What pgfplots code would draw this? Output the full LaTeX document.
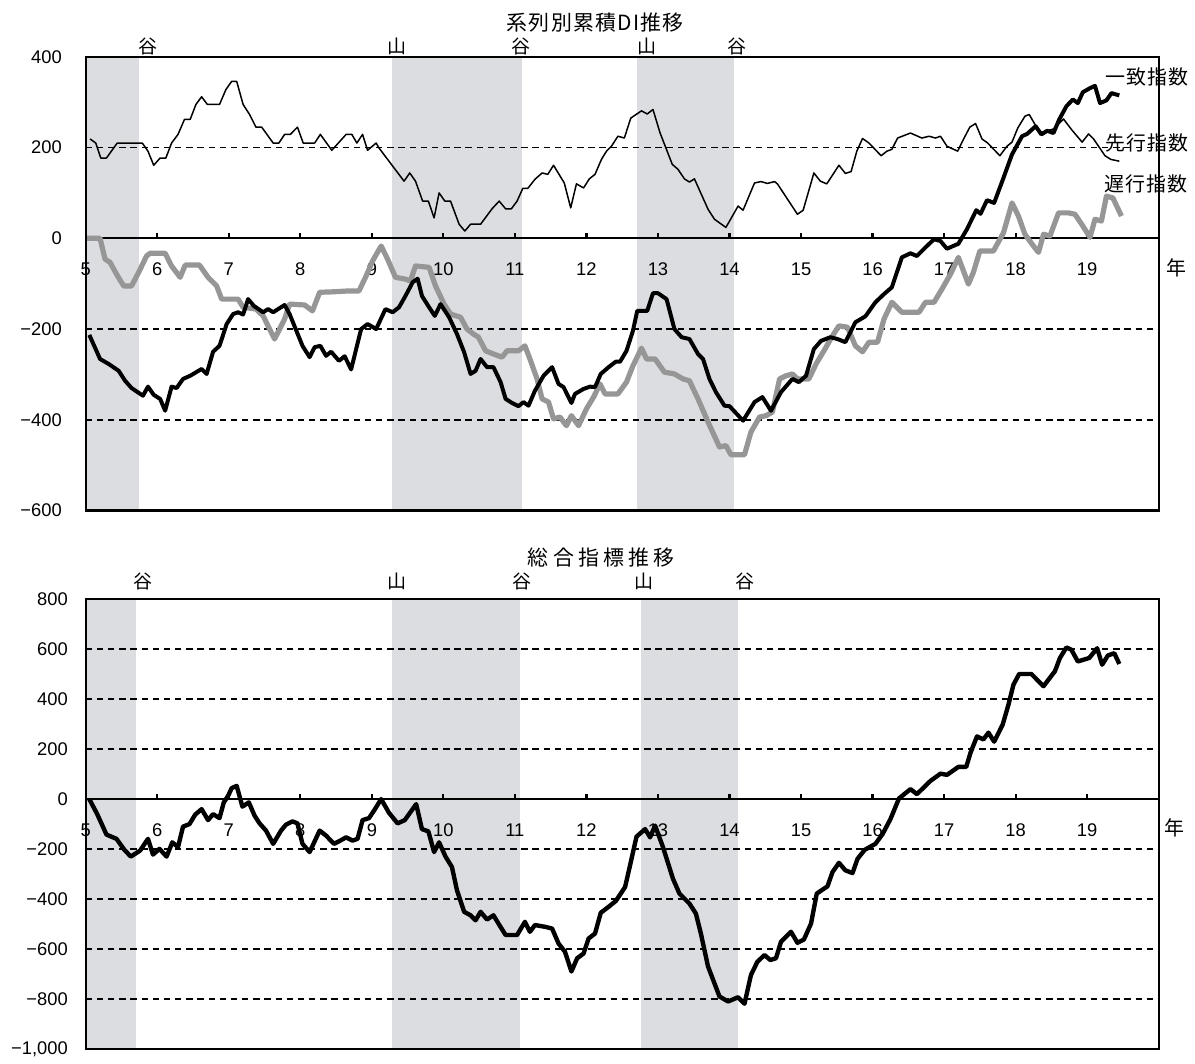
\documentclass[border=0pt]{standalone}
\usepackage{fontspec}
\setmainfont{Liberation Sans}
\newfontfamily\jp{Noto Sans CJK JP}
\newfontfamily\jpsp{Noto Sans CJK JP}[LetterSpace=20]
\newfontfamily\jpsl{Noto Sans CJK JP}[LetterSpace=6]
\usepackage{pgfplots}
\pgfplotsset{compat=1.18}
\definecolor{band}{RGB}{220,221,224}
\definecolor{lag}{RGB}{150,150,150}
\pgfplotsset{
  chartbase/.style={
    set layers,
    scale only axis,
    width=538pt,
    xmin=5, xmax=20,
    axis x line=middle, axis y line=left,
    axis line style={-, line width=1pt, black},
    hide obscured x ticks=false, hide obscured y ticks=false,
    xtick={5,6,...,19},
    xticklabels={5,6,7,8,9,10,11,12,13,14,15,16,17,18,19},
    major tick length=0pt,
    every y tick/.style={draw=none},
    ymajorgrids,
    grid style={line width=0.8pt, black, dash pattern=on 3.2pt off 2.4pt},
    tick label style={font=\fontsize{9.2}{10}\selectfont},
    /pgf/number format/assume math mode=true,
    clip=false,
  },
  bandstyle/.style={draw=none, fill=band, on layer=axis background, forget plot},
  tickstyle/.style={ycomb, black, line width=1.1pt, forget plot},
}
\begin{document}
\begin{tikzpicture}
% ---------------- top panel ----------------
\begin{axis}[chartbase,
  height=227.5pt,
  at={(43pt,275pt)}, anchor=south west,
  ymin=-600, ymax=400,
  ytick={-600,-400,-200,0,200,400},
  yticklabels={−600,−400,−200,0,200,400},
  yticklabel style={anchor=east, xshift=-8.5pt},
  xticklabel style={anchor=center, yshift=-15.5pt},
]
\addplot[bandstyle] coordinates {(5,-600) (5,400) (5.745,400) (5.745,-600)} -- cycle;
\addplot[bandstyle] coordinates {(9.283,-600) (9.283,400) (11.093,400) (11.093,-600)} -- cycle;
\addplot[bandstyle] coordinates {(12.709,-600) (12.709,400) (14.06,400) (14.06,-600)} -- cycle;
\addplot[tickstyle] coordinates {(6,12)(7,12)(8,12)(9,12)(10,12)(11,12)(12,12)(13,12)(14,12)(15,12)(16,12)(17,12)(18,12)(19,12)};
% lagging index
\addplot[lag, line width=2.6pt, line join=round] coordinates {
(5.02,0)(5.20,0)(5.27,-46)(5.34,-53)(5.43,-79)(5.53,-105)(5.64,-105)(5.74,-75)(5.85,-39)(5.90,-33)
(6.11,-33)(6.20,-61)(6.32,-86)(6.39,-59)(6.59,-59)(6.71,-86)(6.83,-105)(6.90,-134)(7.13,-134)(7.20,-152)
(7.38,-156)(7.48,-171)(7.57,-200)(7.64,-222)(7.71,-200)(7.78,-178)(7.85,-145)(8.06,-147)(8.17,-160)(8.27,-119)
(8.45,-118)(8.68,-116)(8.82,-116)(8.92,-83)(9.01,-50)(9.13,-17)(9.22,-46)(9.33,-86)(9.47,-90)(9.54,-94)
(9.61,-61)(9.80,-64)(9.89,-105)(10.01,-145)(10.10,-167)(10.24,-174)(10.33,-200)(10.42,-211)(10.49,-218)(10.59,-248)
(10.70,-255)(10.82,-262)(10.89,-248)(11.05,-248)(11.14,-237)(11.21,-266)(11.31,-310)(11.38,-354)(11.47,-361)(11.54,-398)
(11.63,-394)(11.72,-413)(11.79,-391)(11.89,-413)(12.00,-376)(12.10,-350)(12.19,-321)(12.26,-343)(12.44,-343)(12.56,-317)
(12.65,-281)(12.77,-242)(12.84,-266)(12.96,-266)(13.09,-295)(13.23,-299)(13.35,-310)(13.44,-314)(13.56,-354)(13.70,-405)
(13.86,-460)(13.95,-457)(14.02,-477)(14.21,-477)(14.30,-427)(14.42,-394)(14.51,-391)(14.60,-383)(14.70,-310)(14.79,-303)
(14.88,-299)(14.95,-310)(15.11,-310)(15.21,-277)(15.32,-248)(15.44,-215)(15.53,-193)(15.65,-196)(15.76,-237)(15.86,-250)
(15.95,-229)(16.07,-229)(16.16,-178)(16.27,-141)(16.41,-163)(16.65,-163)(16.74,-141)(16.86,-141)(16.97,-112)(17.09,-79)
(17.20,-42)(17.34,-101)(17.41,-75)(17.50,-28)(17.69,-28)(17.83,12)(17.95,78)(18.04,49)(18.13,9)(18.25,-17)
(18.32,-31)(18.39,9)(18.48,5)(18.60,56)(18.74,56)(18.83,53)(18.94,27)(19.04,2)(19.11,42)(19.20,38)
(19.27,93)(19.36,89)(19.48,49)
};
% leading index
\addplot[black, line width=0.75pt, line join=round] coordinates {
(5.06,219)(5.14,210)(5.21,177)(5.29,177)(5.44,210)(5.79,210)(5.87,192)(5.95,161)(6.04,177)(6.12,177)
(6.20,210)(6.29,229)(6.38,262)(6.46,262)(6.54,295)(6.62,312)(6.70,295)(6.87,295)(6.96,328)(7.04,346)
(7.11,346)(7.20,295)(7.29,273)(7.38,245)(7.46,245)(7.62,210)(7.70,210)(7.78,229)(7.86,229)(7.96,245)
(8.04,210)(8.20,210)(8.28,229)(8.44,194)(8.64,229)(8.72,229)(8.79,210)(8.87,229)(8.94,194)(9.06,210)
(9.10,199)(9.45,126)(9.53,144)(9.61,126)(9.71,82)(9.79,82)(9.87,45)(9.94,100)(10.02,82)(10.10,82)
(10.22,31)(10.30,16)(10.38,31)(10.52,31)(10.68,65)(10.78,82)(10.87,65)(10.95,65)(11.03,82)(11.11,110)
(11.18,110)(11.28,130)(11.38,144)(11.46,141)(11.54,161)(11.69,122)(11.78,67)(11.86,120)(11.96,111)(12.04,131)
(12.12,141)(12.21,174)(12.28,192)(12.35,203)(12.44,225)(12.53,221)(12.62,265)(12.77,281)(12.85,274)(12.93,284)
(13.03,232)(13.20,163)(13.28,152)(13.37,131)(13.44,124)(13.51,131)(13.70,64)(13.79,42)(13.95,24)(14.12,71)
(14.19,62)(14.35,122)(14.44,125)(14.53,121)(14.63,125)(14.67,120)(14.95,53)(15.03,62)(15.18,144)(15.27,126)
(15.36,120)(15.53,161)(15.62,143)(15.70,147)(15.78,192)(15.86,220)(15.95,210)(16.12,182)(16.20,192)(16.27,196)
(16.35,221)(16.53,232)(16.69,221)(16.79,225)(16.88,221)(16.95,225)(17.04,203)(17.19,192)(17.27,218)(17.36,245)
(17.44,253)(17.53,219)(17.61,210)(17.78,182)(17.88,203)(17.95,212)(18.03,243)(18.13,269)(18.19,273)(18.34,232)
(18.53,241)(18.67,263)(18.78,240)(18.93,212)(19.02,230)(19.09,219)(19.25,182)(19.33,174)(19.45,170)
};
% coincident index
\addplot[black, line width=2pt, line join=round] coordinates {
(5.05,-213)(5.20,-266)(5.32,-277)(5.46,-292)(5.55,-314)(5.64,-330)(5.80,-347)(5.87,-327)(5.95,-345)(6.04,-354)
(6.11,-380)(6.20,-327)(6.27,-330)(6.36,-310)(6.46,-303)(6.62,-288)(6.69,-299)(6.78,-250)(6.87,-237)(6.97,-189)
(7.06,-167)(7.13,-163)(7.20,-168)(7.27,-134)(7.35,-149)(7.48,-163)(7.55,-156)(7.62,-163)(7.78,-147)(7.85,-167)
(8.03,-237)(8.13,-262)(8.20,-240)(8.28,-237)(8.36,-259)(8.43,-250)(8.54,-270)(8.62,-260)(8.71,-289)(8.85,-200)
(8.94,-189)(9.06,-200)(9.19,-156)(9.29,-163)(9.38,-152)(9.47,-127)(9.57,-97)(9.64,-89)(9.70,-127)(9.80,-152)
(9.88,-171)(9.96,-145)(10.08,-174)(10.19,-211)(10.29,-251)(10.38,-299)(10.45,-292)(10.52,-266)(10.61,-284)(10.70,-284)
(10.80,-317)(10.87,-354)(10.96,-363)(11.05,-370)(11.12,-361)(11.19,-369)(11.28,-336)(11.40,-303)(11.52,-284)(11.61,-321)
(11.68,-328)(11.79,-363)(11.84,-343)(11.96,-332)(12.05,-327)(12.12,-328)(12.20,-299)(12.31,-284)(12.41,-272)(12.47,-272)
(12.56,-248)(12.65,-204)(12.71,-160)(12.85,-160)(12.93,-121)(13.00,-121)(13.12,-134)(13.23,-200)(13.33,-218)(13.44,-222)
(13.56,-255)(13.63,-266)(13.72,-310)(13.81,-339)(13.93,-369)(14.00,-370)(14.19,-402)(14.35,-361)(14.46,-350)(14.58,-380)
(14.72,-339)(14.88,-310)(14.97,-317)(15.07,-303)(15.18,-244)(15.28,-226)(15.41,-218)(15.51,-222)(15.62,-229)(15.76,-185)
(15.90,-172)(16.04,-141)(16.16,-123)(16.27,-108)(16.41,-42)(16.53,-33)(16.62,-39)(16.74,-20)(16.86,-2)(16.95,-6)
(17.04,-23)(17.20,-12)(17.32,20)(17.45,62)(17.51,54)(17.60,84)(17.70,78)(17.83,133)(17.95,185)(18.09,225)
(18.16,230)(18.28,247)(18.36,229)(18.44,237)(18.53,232)(18.61,262)(18.71,291)(18.80,306)(18.87,298)(18.94,322)
(19.04,331)(19.11,336)(19.18,298)(19.27,304)(19.34,320)(19.45,315)
};
\draw[line width=1.1pt, black] (rel axis cs:0,0) rectangle (rel axis cs:1,1);
\end{axis}
% ---------------- bottom panel ----------------
\begin{axis}[chartbase,
  height=225.5pt,
  at={(43pt,5pt)}, anchor=south west,
  ymin=-1000, ymax=800,
  ytick={-1000,-800,-600,-400,-200,0,200,400,600,800},
  yticklabels={{−1,000},−800,−600,−400,−200,0,200,400,600,800},
  yticklabel style={anchor=east, xshift=-5.5pt},
  xticklabel style={anchor=center, yshift=-15.5pt},
]
\addplot[bandstyle] coordinates {(5,-1000) (5,800) (5.703,800) (5.703,-1000)} -- cycle;
\addplot[bandstyle] coordinates {(9.283,-1000) (9.283,800) (11.065,800) (11.065,-1000)} -- cycle;
\addplot[bandstyle] coordinates {(12.765,-1000) (12.765,800) (14.116,800) (14.116,-1000)} -- cycle;
\addplot[tickstyle] coordinates {(6,22)(7,22)(8,22)(9,22)(10,22)(11,22)(12,22)(13,22)(14,22)(15,22)(16,22)(17,22)(18,22)(19,22)};
\addplot[black, line width=2.2pt, line join=round] coordinates {
(5.05,0)(5.16,-60)(5.29,-142)(5.43,-159)(5.54,-203)(5.63,-230)(5.76,-206)(5.87,-159)(5.94,-222)(6.03,-199)
(6.13,-230)(6.21,-173)(6.29,-192)(6.36,-110)(6.45,-100)(6.53,-62)(6.62,-40)(6.71,-84)(6.78,-60)(6.87,-76)
(6.93,-13)(6.99,13)(7.04,44)(7.11,53)(7.19,-30)(7.28,-13)(7.36,-66)(7.43,-97)(7.52,-126)(7.62,-179)
(7.73,-126)(7.80,-102)(7.89,-89)(7.96,-97)(8.03,-179)(8.13,-212)(8.27,-126)(8.36,-146)(8.47,-179)(8.54,-169)
(8.64,-153)(8.73,-166)(8.80,-159)(8.87,-84)(8.96,-76)(9.03,-46)(9.13,0)(9.24,-55)(9.36,-97)(9.46,-84)
(9.62,-20)(9.70,-120)(9.79,-129)(9.87,-212)(9.94,-173)(10.03,-230)(10.12,-272)(10.19,-365)(10.29,-451)(10.38,-465)
(10.45,-485)(10.52,-451)(10.61,-482)(10.70,-465)(10.77,-498)(10.87,-544)(11.03,-544)(11.14,-491)(11.21,-531)(11.28,-504)
(11.42,-511)(11.52,-518)(11.61,-578)(11.70,-611)(11.79,-690)(11.87,-637)(11.96,-618)(12.03,-558)(12.12,-538)(12.20,-455)
(12.31,-431)(12.41,-408)(12.54,-352)(12.61,-265)(12.70,-150)(12.82,-120)(12.89,-153)(12.96,-106)(13.07,-192)(13.21,-319)
(13.30,-378)(13.44,-418)(13.53,-458)(13.60,-538)(13.70,-670)(13.86,-790)(13.98,-810)(14.12,-793)(14.21,-819)(14.30,-704)
(14.39,-651)(14.49,-624)(14.57,-644)(14.65,-637)(14.72,-571)(14.86,-531)(14.95,-575)(15.04,-562)(15.14,-498)(15.22,-378)
(15.37,-349)(15.44,-292)(15.53,-255)(15.62,-285)(15.72,-296)(15.79,-239)(15.89,-203)(16.04,-179)(16.14,-140)(16.25,-80)
(16.37,3)(16.53,40)(16.62,20)(16.81,73)(16.95,102)(17.04,97)(17.20,129)(17.31,129)(17.37,186)(17.46,251)
(17.55,239)(17.62,266)(17.70,230)(17.82,299)(17.90,378)(17.97,458)(18.05,501)(18.22,501)(18.39,452)(18.55,512)
(18.62,565)(18.71,607)(18.78,598)(18.87,551)(19.03,565)(19.14,604)(19.21,538)(19.29,575)(19.38,584)(19.45,541)
};
\draw[line width=1.1pt, black] (rel axis cs:0,0) rectangle (rel axis cs:1,1);
\end{axis}
% ---------------- texts ----------------
\node[font=\jpsl\fontsize{10.5}{12}\selectfont] at (298.5pt,519.5pt) {系列別累積DI推移};
\node[font=\jpsp\fontsize{10.5}{12}\selectfont] at (301.5pt,251.5pt) {総合指標推移};
\begin{scope}[every node/.style={font=\jp\fontsize{9.5}{10}\selectfont}]
\node at (74pt,507.5pt) {谷};
\node at (199pt,507.5pt) {山};
\node at (261pt,507.5pt) {谷};
\node at (324.5pt,507.5pt) {山};
\node at (369.5pt,507.5pt) {谷};
\node at (71.5pt,239.5pt) {谷};
\node at (199pt,239.5pt) {山};
\node at (261.5pt,239.5pt) {谷};
\node at (323pt,239.5pt) {山};
\node at (373.5pt,239.5pt) {谷};
\end{scope}
\begin{scope}[every node/.style={font=\jpsl\fontsize{10}{12}\selectfont}]
\node at (575pt,492.5pt) {一致指数};
\node at (575pt,459.5pt) {先行指数};
\node at (574.5pt,439pt) {遅行指数};
\end{scope}
\begin{scope}[every node/.style={font=\jp\fontsize{10}{12}\selectfont}]
\node at (590pt,396.5pt) {年};
\node at (589pt,116pt) {年};
\end{scope}
\path (0,0) rectangle (597.5pt,531pt);
\end{tikzpicture}
\end{document}
